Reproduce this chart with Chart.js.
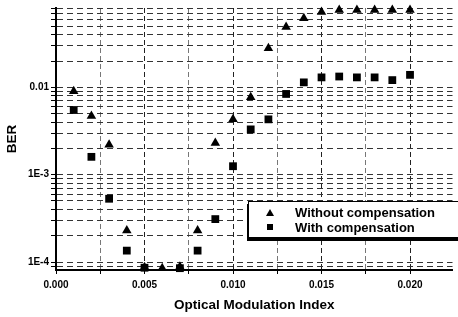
<!DOCTYPE html>
<html><head><meta charset="utf-8">
<script src="https://cdn.jsdelivr.net/npm/chart.js@4/dist/chart.umd.min.js"></script>
<style>
html,body{margin:0;padding:0;background:#fff;}
#wrap{position:relative;width:458px;height:317px;overflow:hidden;}
canvas{display:block;}
#legend{position:absolute;left:248px;top:201px;width:215px;height:35px;border:1px solid #000;background:#fff;box-shadow:-1px 3px 0 #000;font:bold 13px "Liberation Sans",Arial,sans-serif;color:#000;}
.row{position:absolute;left:0;height:15px;line-height:15px;white-space:nowrap;}
.row span.t{position:absolute;left:46px;top:0;}
.tri{position:absolute;left:17px;top:4px;width:0;height:0;border-left:4px solid transparent;border-right:4px solid transparent;border-bottom:7px solid #000;}
.sq{position:absolute;left:18px;top:4px;width:6px;height:6px;background:#000;}
</style></head>
<body>
<div id="wrap">
<canvas id="c" width="458" height="317"></canvas>
<div id="legend">
 <div class="row" style="top:3px"><i class="tri"></i><span class="t" id="l0"></span></div>
 <div class="row" style="top:18px"><i class="sq"></i><span class="t" id="l1"></span></div>
</div>
</div>
<script>
// ---- data ----
const seriesNames = ["Without compensation", "With compensation"];
const xValues = [0.001,0.002,0.003,0.004,0.005,0.006,0.007,0.008,0.009,0.010,0.011,0.012,0.013,0.014,0.015,0.016,0.017,0.018,0.019,0.020];
const berWithout = [0.0090,0.0047,0.0022,2.3e-4,8.7e-5,8.5e-5,8.8e-5,2.3e-4,0.0023,0.0043,0.0077,0.028,0.049,0.062,0.073,0.077,0.077,0.077,0.077,0.077];
const berWith = [0.0055,0.0016,5.3e-4,1.35e-4,8.6e-5,null,8.5e-5,1.35e-4,3.1e-4,0.00125,0.0033,0.0043,0.0084,0.0114,0.0130,0.0133,0.0130,0.0130,0.0121,0.0139];
const xTickValues = [0,0.0025,0.005,0.0075,0.010,0.0125,0.015,0.0175,0.020];
const xTickLabels = ["0.000","","0.005","","0.010","","0.015","","0.020"];
const yMajorValues = [1e-4,1e-3,1e-2];
const yTickLabels = ["1E-4","1E-3","0.01"];
const xTitle = "Optical Modulation Index";
const yTitle = "BER";
const xMin = 0, xMax = 0.0224, yMin = 8.1e-5, yMax = 0.081;

document.getElementById('l0').textContent = seriesNames[0];
document.getElementById('l1').textContent = seriesNames[1];

const toPts = arr => xValues.map((x,i)=>({x:x,y:arr[i]})).filter(p=>p.y!==null);
const yGrid = [];
for (let e=-5; e<=-1; e++) for (let m=1; m<=9; m++) { const v = m*Math.pow(10,e); if (v>=yMin*0.999 && v<=yMax*1.001) yGrid.push(v); }

const tickFont = {family:'"Liberation Sans", Arial, sans-serif', size:10, weight:'bold'};
const titleFont = {family:'"Liberation Sans", Arial, sans-serif', size:13.5, weight:'bold'};

new Chart(document.getElementById('c'), {
  type:'scatter',
  data:{datasets:[
    {label:seriesNames[0], data:toPts(berWithout), pointStyle:'triangle', pointRadius:5.5, backgroundColor:'#000', borderColor:'#000', borderWidth:0, clip:12},
    {label:seriesNames[1], data:toPts(berWith), pointStyle:'rect', pointRadius:5.5, backgroundColor:'#000', borderColor:'#000', borderWidth:0, clip:12}
  ]},
  options:{
    responsive:false, animation:false, events:[],
    layout:{padding:{top:5,right:0,left:0,bottom:0}},
    plugins:{legend:{display:false}, tooltip:{enabled:false}},
    scales:{
      x:{type:'linear', min:xMin, max:xMax,
        afterBuildTicks:s=>{ s.ticks = xTickValues.map(v=>({value:v})); },
        afterFit:s=>{ s.height = 47; },
        ticks:{autoSkip:false, maxRotation:0, padding:5, color:'#000', font:tickFont,
          callback:(v,i)=>xTickLabels[i]},
        grid:{color:ctx=> (ctx.index%2 ? '#777' : '#222'), lineWidth:1, tickLength:4, tickColor:'#000'},
        border:{display:true, color:'#000', width:2, dash:[5,3]},
        title:{display:true, text:xTitle, color:'#000', font:titleFont, padding:{top:0,bottom:4}}
      },
      y:{type:'logarithmic', min:yMin, max:yMax,
        afterBuildTicks:s=>{ s.ticks = yGrid.map(v=>({value:v})); },
        afterFit:s=>{ s.width = 56; },
        ticks:{autoSkip:false, padding:2, color:'#000', font:tickFont,
          callback:(v,i,ticks)=>{ const val = ticks[i].value; const k = yMajorValues.findIndex(m=>Math.abs(m-val)/m<1e-6); return k>=0 ? yTickLabels[k] : ''; }},
        grid:{color:'#333', lineWidth:1, tickLength:5, tickColor:'#000'},
        border:{display:true, color:'#000', width:2, dash:[6,4]},
        title:{display:true, text:yTitle, color:'#000', font:titleFont, padding:{top:4,bottom:0}}
      }
    }
  }
});
</script>
</body></html>
